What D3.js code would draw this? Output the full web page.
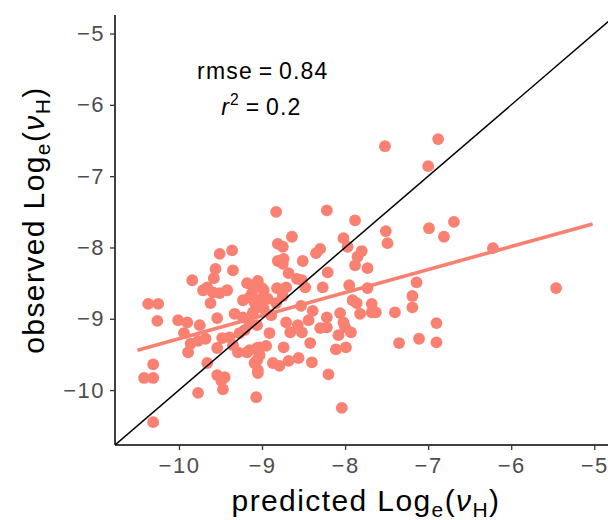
<!DOCTYPE html>
<html>
<head>
<meta charset="utf-8">
<script src="https://cdn.jsdelivr.net/npm/d3@7"></script>
<style>
body{margin:0;background:#fff;}
text{font-family:"Liberation Sans",Arial,Helvetica,sans-serif;}
</style>
</head>
<body>
<svg id="chart" width="608" height="520"></svg>
<script>
//data
var predicted=[-7.52,-6.88,-7.00,-8.83,-8.22,-7.88,-8.64,-8.02,-7.51,-7.49,-6.99,-6.81,-6.69,-6.22,-5.46,
-8.81,-8.75,-9.51,-9.36,-8.30,-8.35,-7.97,-7.80,-7.85,-7.88,-7.73,-8.81,-8.74,-8.75,-8.51,
-9.56,-9.35,-9.84,-9.58,-8.68,-8.21,-8.58,-8.52,-9.18,-9.10,-9.00,-8.82,-8.71,-8.48,-8.27,
-7.95,-7.73,-7.14,-9.71,-9.66,-9.59,-9.51,-9.42,-10.37,-10.25,-9.62,-9.23,-9.15,-9.09,
-10.26,-10.01,-9.90,-9.75,-9.54,-9.33,-9.23,-9.11,-9.94,-9.86,-9.77,-9.68,-9.89,
-9.54,-9.48,-9.39,-9.35,-9.27,-9.21,-9.29,-9.18,-9.06,-9.66,-10.31,-10.42,-10.31,
-9.54,-9.45,-9.49,-9.47,-9.77,-9.07,-10.31,-9.06,-9.05,-8.91,-8.71,-8.66,-8.57,-8.52,
-8.42,-8.74,-9.03,-8.95,-9.15,-9.03,-9.09,-9.05,-8.87,-8.79,-8.68,-8.56,-8.40,
-8.44,-8.30,-8.22,-8.22,-8.08,-8.00,-7.93,-8.06,-7.82,-7.68,-8.11,-7.99,-8.20,-8.04,
-7.91,-7.86,-7.68,-7.63,-7.40,-7.19,-7.19,-8.02,-7.35,-7.11,-6.90,-6.90,-8.53,-8.39,
-9.15,-9.06,-9.05,-8.98,-9.12,-9.01,-9.07,-8.93,-8.98,-8.89,-8.83,-8.75];
var observed=[-6.58,-6.48,-6.86,-7.50,-7.48,-7.62,-7.85,-7.87,-7.77,-7.94,-7.73,-7.85,-7.64,-8.01,-8.57,
-7.95,-7.99,-8.09,-8.04,-8.02,-8.08,-7.99,-8.05,-8.13,-8.25,-8.29,-8.19,-8.16,-8.23,-8.19,
-8.30,-8.32,-8.46,-8.43,-8.36,-8.35,-8.44,-8.46,-8.50,-8.53,-8.57,-8.57,-8.56,-8.56,-8.56,
-8.53,-8.57,-8.49,-8.60,-8.56,-8.63,-8.64,-8.60,-8.79,-8.79,-8.78,-8.74,-8.70,-8.77,
-9.03,-9.02,-9.05,-9.09,-8.99,-8.93,-8.98,-8.91,-9.20,-9.35,-9.31,-9.28,-9.47,
-9.41,-9.27,-9.26,-9.37,-9.20,-9.16,-9.47,-9.47,-9.41,-9.62,-9.64,-9.83,-9.83,
-9.79,-9.82,-9.87,-9.99,-10.04,-10.10,-10.45,-9.58,-9.72,-9.20,-9.05,-9.19,-9.09,-9.19,
-9.34,-9.40,-9.40,-9.38,-9.44,-9.51,-9.62,-9.76,-9.62,-9.66,-9.59,-9.55,-9.61,
-9.02,-9.13,-9.12,-8.98,-9.23,-9.12,-9.19,-8.92,-8.93,-8.91,-9.43,-9.40,-9.78,-10.25,
-8.74,-8.78,-8.79,-8.91,-8.91,-8.68,-8.84,-9.05,-9.34,-9.28,-9.06,-9.33,-8.82,-8.89,
-9.06,-9.09,-8.47,-8.60,-8.64,-8.72,-8.84,-8.72,-8.86,-8.95,-8.78,-8.68];
var fitX=[-10.50,-5.02];
var fitY=[-9.44,-7.67];
var xTicks=[-10,-9,-8,-7,-6,-5];
var yTicks=[-10,-9,-8,-7,-6,-5];
var rmse="0.84";
var r2="0.2";

var svg=d3.select("#chart");
var pLeft=115,pRight=608,pTop=15,pBottom=445;

var x=d3.scaleLinear().domain([-10.77,-4.835]).range([pLeft,pRight]);
var y=d3.scaleLinear().domain([-10.77,-4.74]).range([pBottom,pTop]);

svg.append("clipPath").attr("id","panel").append("rect")
    .attr("x",pLeft).attr("y",pTop).attr("width",pRight-pLeft).attr("height",pBottom-pTop);

var plot=svg.append("g").attr("clip-path","url(#panel)");

//points
var pts=predicted.map(function(p,i){return [p,observed[i]];});
plot.selectAll("circle").data(pts).enter().append("circle")
    .attr("cx",function(d){return x(d[0]);})
    .attr("cy",function(d){return y(d[1]);})
    .attr("r",5.9)
    .attr("fill","#FA8072");

//linear fit
plot.append("line")
    .attr("x1",x(fitX[0])).attr("y1",y(fitY[0]))
    .attr("x2",x(fitX[1])).attr("y2",y(fitY[1]))
    .attr("stroke","#FA8072").attr("stroke-width",3.6);

//1:1 line
plot.append("line")
    .attr("x1",x(-11)).attr("y1",y(-11))
    .attr("x2",x(-4)).attr("y2",y(-4))
    .attr("stroke","#000").attr("stroke-width",1.5);

//axes
function minus(d){return "\u2212"+Math.abs(d);}
function styleAxis(g){
    g.select(".domain").attr("stroke","#000").attr("stroke-width",1.5);
    g.selectAll(".tick line").attr("stroke","#333").attr("stroke-width",1.3);
    g.selectAll(".tick text").attr("fill","#4D4D4D").attr("font-size",22)
        .attr("letter-spacing","1.5px")
        .attr("font-family","'Liberation Sans',Arial,Helvetica,sans-serif");
}
var xAxis=svg.append("g").attr("transform","translate(0,"+pBottom+")")
    .call(d3.axisBottom(x).tickValues(xTicks).tickSizeOuter(0).tickSize(5).tickPadding(7).tickFormat(minus));
xAxis.call(styleAxis);
var yAxis=svg.append("g").attr("transform","translate("+pLeft+",0)")
    .call(d3.axisLeft(y).tickValues(yTicks).tickSizeOuter(0).tickSize(5).tickPadding(5).tickFormat(minus));
yAxis.call(styleAxis);
//stretch axis lines to the panel edges
xAxis.select(".domain").attr("d","M"+pLeft+",0H"+pRight);
yAxis.select(".domain").attr("d","M0,"+pBottom+"V"+pTop);

//axis titles
function title(t,word){
    t.append("tspan").text(word+" Log");
    t.append("tspan").attr("font-size","0.7em").attr("dy","0.3em").text("e");
    t.append("tspan").attr("dy","-0.21em").text("(");
    t.append("tspan").attr("font-style","italic").text("\u03bd");
    t.append("tspan").attr("font-size","0.7em").attr("dy","0.3em").text("H");
    t.append("tspan").attr("dy","-0.21em").text(")");
}
var xt=svg.append("text").attr("x",366).attr("y",511).attr("text-anchor","middle")
    .attr("font-size",30).attr("letter-spacing","1.4px").attr("fill","#000");
title(xt,"predicted");
var yt=svg.append("text").attr("transform","translate(44,220) rotate(-90)")
    .attr("text-anchor","middle").attr("font-size",30).attr("letter-spacing","1.4px").attr("fill","#000");
title(yt,"observed");

//stats
var stats=svg.append("g").attr("font-size",23).attr("letter-spacing","1.2px");
stats.append("text").attr("x",253).attr("y",79).attr("text-anchor","end").text("rmse");
stats.append("text").attr("x",266).attr("y",79).attr("text-anchor","middle").text("=");
stats.append("text").attr("x",279).attr("y",79).text(rmse);
var rt=stats.append("text").attr("x",240).attr("y",115).attr("text-anchor","end");
rt.append("tspan").attr("font-style","italic").text("r");
rt.append("tspan").attr("font-size","0.68em").attr("dy","-0.62em").text("2");
stats.append("text").attr("x",253).attr("y",115).attr("text-anchor","middle").text("=");
stats.append("text").attr("x",266).attr("y",115).text(r2);
</script>
</body>
</html>
